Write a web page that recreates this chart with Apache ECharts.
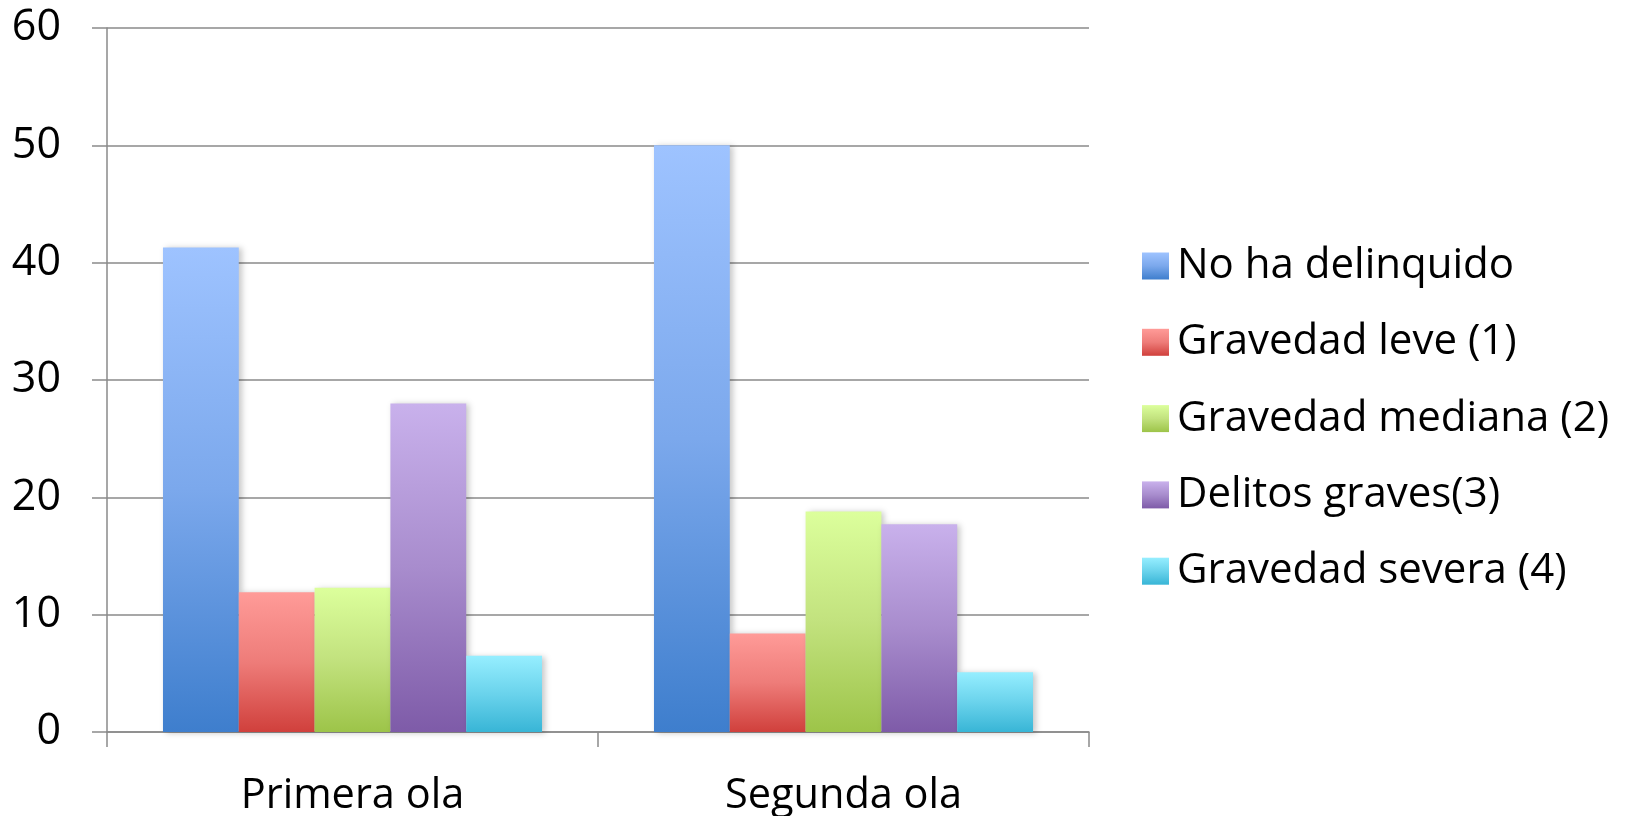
<!DOCTYPE html>
<html>
<head>
<meta charset="utf-8">
<script src="https://cdn.jsdelivr.net/npm/echarts@6/dist/echarts.min.js"></script>
<style>
html,body{margin:0;padding:0;background:#fff;}
#chart{width:1625px;height:816px;}
</style>
</head>
<body>
<div id="chart"></div>
<script>
const categories = ['Primera ola', 'Segunda ola'];
const seriesNames = ['No ha delinquido', 'Gravedad leve (1)', 'Gravedad mediana (2)', 'Delitos graves(3)', 'Gravedad severa (4)'];
const noHaDelinquido = [41.3, 50.0];
const gravedadLeve = [11.9, 8.4];
const gravedadMediana = [12.3, 18.8];
const delitosGraves = [28.0, 17.7];
const gravedadSevera = [6.5, 5.1];
const yTicks = [0, 10, 20, 30, 40, 50, 60];

const seriesValues = [noHaDelinquido, gravedadLeve, gravedadMediana, delitosGraves, gravedadSevera];
const palettes = [
  ['#9EC3FF', '#7BA8EC', '#3E7ECD'],
  ['#FF9B98', '#EE7C79', '#D0403C'],
  ['#DCFF9C', '#C2E27E', '#9DC449'],
  ['#C9B1EC', '#A88CCD', '#7E5BA8'],
  ['#96EEFF', '#6AD3EC', '#38B5D6']
];
function grad(p) {
  return new echarts.graphic.LinearGradient(0, 0, 0, 1, [
    {offset: 0, color: p[0]},
    {offset: 0.5, color: p[1]},
    {offset: 1, color: p[2]}
  ]);
}

const FONT = "'Open Sans'";
const chart = echarts.init(document.getElementById('chart'), null, {renderer: 'canvas'});
const axisColor = '#8a8a8a';
chart.setOption({
  backgroundColor: '#ffffff',
  animation: false,
  textStyle: {fontFamily: FONT},
  grid: {left: 107, right: 536, top: 28, bottom: 84, containLabel: false, outerBoundsMode: 'none'},
  legend: {
    orient: 'vertical',
    left: 1137,
    top: 240,
    itemWidth: 27,
    itemHeight: 27,
    itemGap: 34.3,
    icon: 'rect',
    textStyle: {fontFamily: FONT, fontSize: 42, color: '#000', lineHeight: 40, padding: [0, 0, 0, 3]},
    data: seriesNames
  },
  xAxis: {
    type: 'category',
    data: categories,
    axisLine: {lineStyle: {color: axisColor, width: 1.5}},
    axisTick: {show: true, length: 15, lineStyle: {color: axisColor, width: 1.5}},
    axisLabel: {fontFamily: FONT, fontSize: 41.5, color: '#000', margin: 39, lineHeight: 50}
  },
  yAxis: {
    type: 'value',
    min: yTicks[0],
    max: yTicks[yTicks.length - 1],
    interval: 10,
    axisLine: {show: true, lineStyle: {color: axisColor, width: 1.5}},
    axisTick: {show: true, length: 15, lineStyle: {color: axisColor, width: 1.5}},
    splitLine: {show: true, lineStyle: {color: axisColor, width: 1.5}},
    axisLabel: {fontFamily: FONT, fontSize: 43, color: '#000', margin: 46}
  },
  series: seriesNames.map((name, i) => ({
    name: name,
    type: 'bar',
    data: seriesValues[i],
    barGap: '0%',
    barCategoryGap: '22.8%',
    itemStyle: {
      color: grad(palettes[i]),
      shadowColor: 'rgba(0,0,0,0.22)',
      shadowBlur: 6,
      shadowOffsetX: 3,
      shadowOffsetY: 1
    }
  }))
});
</script>
</body>
</html>
